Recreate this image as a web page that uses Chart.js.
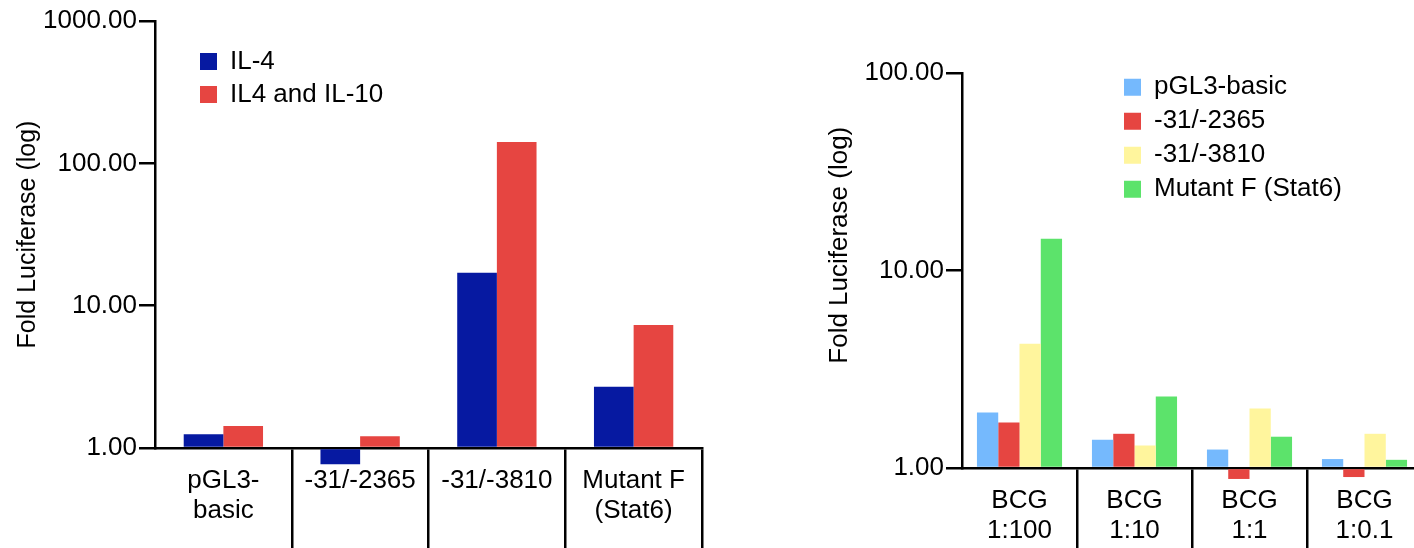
<!DOCTYPE html>
<html lang="en">
<head>
<meta charset="UTF-8">
<title>Fold Luciferase</title>
<script src="https://cdn.jsdelivr.net/npm/chart.js"></script>
<style>
  html, body { margin: 0; background: #fff; overflow: hidden; }
  #wrap { position: relative; width: 1414px; height: 548px; overflow: hidden; }
  canvas { position: absolute; top: 0; }
  #leftChart { left: 0; }
  #rightChart { left: 800px; }
</style>
</head>
<body>
<div id="wrap">
  <canvas id="leftChart" width="720" height="548"></canvas>
  <canvas id="rightChart" width="640" height="548"></canvas>
</div>
<script>
// left panel: IL-4 / IL-10 stimulation
const leftCategories = [['pGL3-', 'basic'], '-31/-2365', '-31/-3810', ['Mutant F', '(Stat6)']];
const il4 = [1.25, 0.77, 17.0, 2.69];
const il4il10 = [1.43, 1.21, 141, 7.3];
const leftTicks = [1, 10, 100, 1000];

// right panel: BCG stimulation
const rightCategories = [['BCG', '1:100'], ['BCG', '1:10'], ['BCG', '1:1'], ['BCG', '1:0.1']];
const pgl3Basic = [1.91, 1.39, 1.24, 1.11];
const c2365 = [1.70, 1.49, 0.88, 0.90];
const c3810 = [4.26, 1.30, 2.00, 1.49];
const mutantF = [14.5, 2.30, 1.44, 1.10];
const rightTicks = [1, 10, 100];

const FONT = "'Liberation Sans', Arial, Helvetica, sans-serif";
Chart.defaults.font.family = FONT;
Chart.defaults.color = '#000';

// move the legend box to a spot inside the plot area
const legendShift = {
  id: 'legendShift',
  beforeDraw(chart, args, opts) {
    const lg = chart.legend;
    if (!lg) return;
    lg.left = chart.chartArea.left + opts.dx;
    lg.top = chart.chartArea.top + opts.dy;
  }
};

const dividerColor = ctx => ctx.index === 0 ? 'rgba(0,0,0,0)' : '#000';

function bar(label, data, color, catPct) {
  return {
    label, data, backgroundColor: color, borderWidth: 0, base: 1, clip: false,
    categoryPercentage: catPct, barPercentage: 1
  };
}

function makeOptions(o) {
  return {
    responsive: false,
    animation: false,
    layout: { padding: { left: 0, right: o.padRight, top: o.padTop, bottom: 0 } },
    plugins: {
      legend: {
        position: 'chartArea',
        align: 'start',
        labels: {
          boxWidth: 17, boxHeight: 17, padding: o.legendPad,
          font: { size: 26 }, color: '#000'
        }
      },
      legendShift: { dx: o.legendDx, dy: o.legendDy },
      tooltip: { enabled: false }
    },
    scales: {
      x: {
        z: 1,
        grid: {
          offset: true, drawOnChartArea: false, drawTicks: true, tickLength: 110,
          color: dividerColor, tickColor: dividerColor, lineWidth: 2.5, tickWidth: 2.5
        },
        border: { color: '#000', width: 2.5 },
        ticks: {
          padding: -92.5, autoSkip: false, maxRotation: 0, minRotation: 0,
          font: { size: 26, lineHeight: 1.15 }, color: '#000'
        },
        afterFit: s => { s.height = o.xHeight; }
      },
      y: {
        z: 1,
        type: 'logarithmic',
        min: o.yTicks[0],
        max: o.yTicks[o.yTicks.length - 1],
        grid: {
          drawOnChartArea: false, drawTicks: true, tickLength: 16,
          color: '#000', tickColor: '#000', lineWidth: 2.5, tickWidth: 2.5
        },
        border: { color: '#000', width: 2.5 },
        ticks: {
          padding: 2, font: { size: 26 }, color: '#000',
          callback: v => Number(v).toFixed(2)
        },
        afterBuildTicks: s => { s.ticks = o.yTicks.map(v => ({ value: v })); },
        title: {
          display: true, text: o.yTitle, color: '#000',
          font: { size: o.titleSize }, padding: { top: o.titlePad, bottom: 0 }
        },
        afterFit: s => { s.width = o.yWidth; }
      }
    }
  };
}

new Chart(document.getElementById('leftChart'), {
  type: 'bar',
  data: {
    labels: leftCategories,
    datasets: [
      bar('IL-4', il4, '#0619a1', 0.58),
      bar('IL4 and IL-10', il4il10, '#e64541', 0.58)
    ]
  },
  options: makeOptions({
    padRight: 18, padTop: 21, xHeight: 100, yWidth: 155,
    yTicks: leftTicks, yTitle: 'Fold Luciferase (log)', titleSize: 25, titlePad: 13,
    legendPad: 7, legendDx: 38, legendDy: 20.5
  }),
  plugins: [legendShift]
});

new Chart(document.getElementById('rightChart'), {
  type: 'bar',
  data: {
    labels: rightCategories,
    datasets: [
      bar('pGL3-basic', pgl3Basic, '#75b9fd', 0.74),
      bar('-31/-2365', c2365, '#e64541', 0.74),
      bar('-31/-3810', c3810, '#fff59d', 0.74),
      bar('Mutant F (Stat6)', mutantF, '#5ce36b', 0.74)
    ]
  },
  options: makeOptions({
    padRight: 18, padTop: 73, xHeight: 80, yWidth: 162,
    yTicks: rightTicks, yTitle: '       Fold Luciferase (log)', titleSize: 26, titlePad: 24,
    legendPad: 8, legendDx: 154, legendDy: -6.8
  }),
  plugins: [legendShift]
});
</script>
</body>
</html>
